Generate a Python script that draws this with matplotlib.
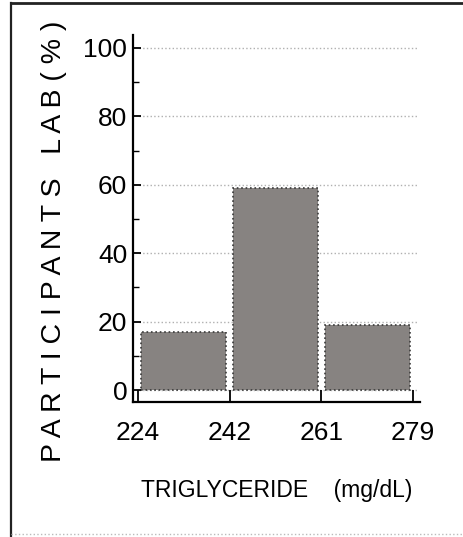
import numpy as np
import matplotlib
matplotlib.use("Agg")
import matplotlib.pyplot as plt
from matplotlib.lines import Line2D

# bin edges (mg/dL) and share of participant labs per bin (%)
edges = ["224", "242", "261", "279"]
percent = [17, 59, 19]

plt.rcParams['font.family'] = ['Liberation Sans Narrow', 'Liberation Sans', 'DejaVu Sans']

fig = plt.figure(figsize=(4.63, 5.37), dpi=100)
ax = fig.add_axes([0.287, 0.2514, 0.62, 0.6836])

pos = np.arange(len(percent)) + 0.5
ax.bar(pos, percent, width=0.93, color='#878381', edgecolor='#3a3a3a',
       linewidth=1.2, linestyle=':', zorder=2)

ax.set_xlim(-0.055, 3.075)
ax.set_ylim(-3.5, 103.8)

ax.set_xticks(np.arange(len(edges)))
ax.set_xticklabels(edges)
ax.set_yticks([0, 20, 40, 60, 80, 100])
ax.set_yticks([10, 30, 50, 70, 90], minor=True)

ax.tick_params(axis='y', which='major', direction='in', length=6, width=1.3,
               labelsize=19, pad=4)
ax.tick_params(axis='y', which='minor', direction='in', length=4, width=1)
ax.tick_params(axis='x', direction='in', length=9, width=1.3, labelsize=19, pad=14)

for s in ['top', 'right']:
    ax.spines[s].set_visible(False)
for s in ['left', 'bottom']:
    ax.spines[s].set_linewidth(1.6)

# dotted gridlines
for v in [0, 20, 40, 60, 80, 100]:
    ax.axhline(v, xmin=0.02, xmax=0.99, color='#b0b0b0', linestyle=':',
               linewidth=1, zorder=1)

fig.text(54 / 463, 0.551, "P A R T I C I P A N T S   L A B ( % )", rotation=90,
         ha='center', va='center', fontsize=20.5)
fig.text(277 / 463, 1 - 490 / 537, "TRIGLYCERIDE    (mg/dL)",
         ha='center', va='center', fontsize=16.5)

# frame around the figure
fig.add_artist(Line2D([11 / 463, 11 / 463], [0, 1 - 3 / 537], transform=fig.transFigure,
                      color='#222222', linewidth=1.6))
fig.add_artist(Line2D([11 / 463, 1], [1 - 3 / 537, 1 - 3 / 537], transform=fig.transFigure,
                      color='#222222', linewidth=2))
fig.add_artist(Line2D([11 / 463, 1], [3 / 537, 3 / 537], transform=fig.transFigure,
                      color='#bbbbbb', linewidth=1, linestyle=':'))

fig.savefig("out.png", dpi=100)
